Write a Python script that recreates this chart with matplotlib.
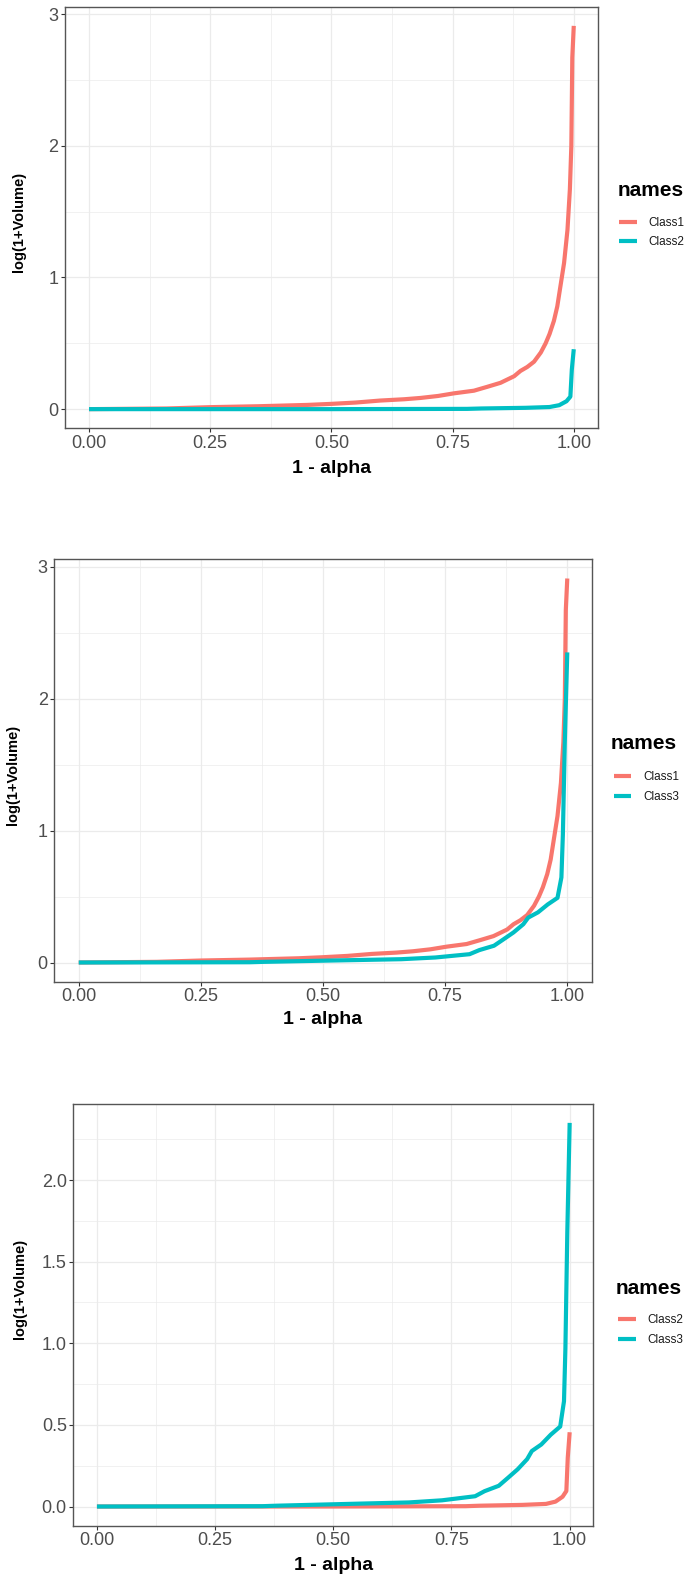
import matplotlib
matplotlib.use("Agg")
import matplotlib.pyplot as plt
from matplotlib.ticker import MultipleLocator

plt.rcParams['font.family'] = ['Liberation Sans', 'DejaVu Sans']

# ---- data ----
alpha_ticks = [0.00, 0.25, 0.50, 0.75, 1.00]
alpha_tick_labels = ["0.00", "0.25", "0.50", "0.75", "1.00"]

class1_x = [0.00, 0.16, 0.25, 0.35, 0.45, 0.50, 0.55, 0.60, 0.65, 0.684, 0.72, 0.753,
            0.794, 0.822, 0.849, 0.877, 0.890, 0.904, 0.918, 0.932, 0.942, 0.950, 0.959,
            0.966, 0.980, 0.987, 0.992, 0.995, 0.997, 1.000]
class1_y = [0.000, 0.005, 0.015, 0.022, 0.032, 0.040, 0.050, 0.065, 0.075, 0.085, 0.100, 0.120,
            0.140, 0.170, 0.200, 0.250, 0.290, 0.320, 0.360, 0.430, 0.500, 0.570, 0.670,
            0.780, 1.110, 1.360, 1.670, 2.000, 2.670, 2.910]

class2_x = [0.00, 0.50, 0.78, 0.81, 0.90, 0.95, 0.97, 0.985, 0.993, 0.996, 1.000]
class2_y = [0.000, 0.000, 0.002, 0.005, 0.010, 0.016, 0.030, 0.060, 0.095, 0.300, 0.455]

class3_x = [0.00, 0.35, 0.38, 0.56, 0.66, 0.73, 0.80, 0.82, 0.85, 0.87, 0.89, 0.91,
            0.92, 0.94, 0.96, 0.980, 0.988, 0.991, 0.995, 1.000]
class3_y = [0.000, 0.002, 0.005, 0.018, 0.025, 0.038, 0.063, 0.094, 0.127, 0.177, 0.228, 0.290,
            0.340, 0.380, 0.440, 0.490, 0.645, 0.970, 1.680, 2.350]

series = {
    "Class1": (class1_x, class1_y),
    "Class2": (class2_x, class2_y),
    "Class3": (class3_x, class3_y),
}

panels = [
    {"names": ["Class1", "Class2"], "yticks": [0, 1, 2, 3], "ylabels": ["0", "1", "2", "3"], "ystep": 1.0},
    {"names": ["Class1", "Class3"], "yticks": [0, 1, 2, 3], "ylabels": ["0", "1", "2", "3"], "ystep": 1.0},
    {"names": ["Class2", "Class3"], "yticks": [0.0, 0.5, 1.0, 1.5, 2.0],
     "ylabels": ["0.0", "0.5", "1.0", "1.5", "2.0"], "ystep": 0.5},
]

RED = "#F8766D"
CYAN = "#00BFC4"

# ---- layout (pixels) ----
W, H = 689, 1579
boxes = [  # left, right, top, bottom
    (64.8, 598.0, 6.7, 428.3),
    (54.3, 591.7, 559.3, 981.7),
    (73.3, 593.3, 1103.7, 1525.7),
]
ylabel_pos = [(19, 222), (13, 775), (20, 1289)]
xlabel_y = [468, 1020, 1565]
legend_pos = [  # title_x, title_y, key_left, rows_center
    (618, 190.7, 619.0, 232.5),
    (610.5, 743.3, 613.7, 787.0),
    (615.8, 1288.0, 618.0, 1330.2),
]

fig = plt.figure(figsize=(W / 100, H / 100), dpi=100)
fig.patch.set_facecolor("white")

def fx(px):
    return px / W

def fy(py):
    return 1 - py / H

for i, (panel, box) in enumerate(zip(panels, boxes)):
    l, r, t, b = box
    ax = fig.add_axes([fx(l), fy(b), fx(r) - fx(l), fy(t) - fy(b)])
    colors = [RED, CYAN]
    ymax = 0
    for name, col in zip(panel["names"], colors):
        xs, ys = series[name]
        ax.plot(xs, ys, color=col, lw=3.0, label=name, solid_capstyle="butt",
                solid_joinstyle="round", zorder=3)
        ymax = max(ymax, max(ys))
    ax.set_xlim(-0.05, 1.05)
    ax.set_ylim(-0.05 * ymax, 1.05 * ymax)

    ax.set_xticks(alpha_ticks)
    ax.set_xticklabels(alpha_tick_labels)
    ax.set_yticks(panel["yticks"])
    ax.set_yticklabels(panel["ylabels"])
    ax.xaxis.set_minor_locator(MultipleLocator(0.125))
    ax.yaxis.set_minor_locator(MultipleLocator(panel["ystep"] / 2))
    ax.tick_params(which="minor", length=0)
    ax.tick_params(which="major", length=2.7, width=0.8, color="#333333",
                   labelsize=13, labelcolor="#4D4D4D", pad=2)
    ax.grid(which="major", color="#EBEBEB", lw=0.9, zorder=0)
    ax.grid(which="minor", color="#EBEBEB", lw=0.5, zorder=0)
    ax.set_axisbelow(True)
    for sp in ax.spines.values():
        sp.set_color("#555555")
        sp.set_linewidth(1.0)

    ax.set_xlabel("1 - alpha", fontsize=14, fontweight="bold", color="black")
    ax.xaxis.set_label_coords(fx((l + r) / 2), fy(xlabel_y[i]), transform=fig.transFigure)
    ax.xaxis.label.set_va("center")
    ax.set_ylabel("log(1+Volume)", fontsize=10.5, fontweight="bold", color="black")
    ax.yaxis.set_label_coords(fx(ylabel_pos[i][0]), fy(ylabel_pos[i][1]), transform=fig.transFigure)
    ax.yaxis.label.set_va("center")

    tx, ty, kx, ky = legend_pos[i]
    fig.text(fx(tx), fy(ty), "names", fontsize=15, fontweight="bold", ha="left", va="center")
    leg = ax.legend(loc="center left", bbox_to_anchor=(fx(kx), fy(ky)),
                    bbox_transform=fig.transFigure, frameon=False, fontsize=8.5,
                    borderpad=0, borderaxespad=0, handlelength=1.5, handletextpad=1.0,
                    labelspacing=0.65)
    for line in leg.get_lines():
        line.set_linewidth(3.0)
        line.set_solid_capstyle("butt")
    for txt in leg.get_texts():
        txt.set_color("#1A1A1A")

fig.savefig("out.png", dpi=100, facecolor="white")
